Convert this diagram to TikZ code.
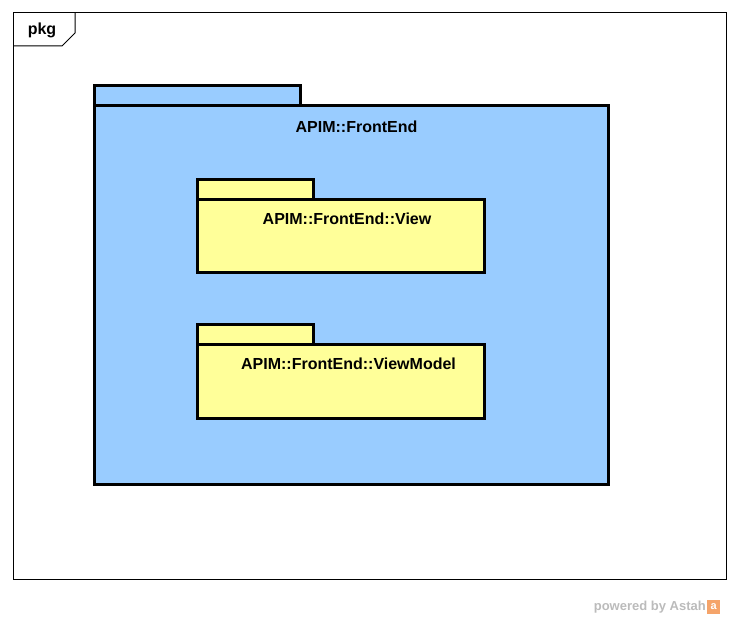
\documentclass[tikz,border=0pt]{standalone}
\usepackage{fontspec}
\setmainfont{Liberation Sans}
\definecolor{pkgblue}{HTML}{99CCFF}
\definecolor{pkgyellow}{HTML}{FFFF99}
\definecolor{wmgrey}{HTML}{BBBBBB}
\definecolor{wmorange}{HTML}{F5A46A}
\begin{document}
\begin{tikzpicture}[x=1pt,y=-1pt,
  pkgshape/.style={draw=black, line width=3pt, rectangle, inner sep=0pt, outer sep=0pt},
  lbl/.style={font=\fontsize{16}{18}\selectfont\bfseries, inner sep=0pt},
  wm/.style={font=\fontsize{13}{15}\selectfont\bfseries, text=wmgrey, inner sep=0pt}]
\useasboundingbox (0,0) rectangle (740,620);
% outer frame
\node[draw=black, line width=1pt, rectangle, inner sep=0pt, outer sep=0pt,
      minimum width=713pt, minimum height=567pt] (frame) at (369.5,296.5) {};
\coordinate (pa) at (13,46);
\coordinate (pb) at (62,46);
\coordinate (pc) at (75,33);
\coordinate (pd) at (75,13);
\draw[line width=1pt] (pa) -- (pb) -- (pc) -- (pd);
\node[lbl] (pkglbl) at (42,30) {pkg};
% FrontEnd package
\node[pkgshape, fill=pkgblue, minimum width=206pt, minimum height=20pt] (fetab) at (197,96) {};
\node[pkgshape, fill=pkgblue, minimum width=514pt, minimum height=379pt] (fe) at (351,295.5) {};
\node[lbl] (felbl) at (356.5,126.5) {APIM::FrontEnd};
% View package
\node[pkgshape, fill=pkgyellow, minimum width=116pt, minimum height=20pt] (vtab) at (255,190) {};
\node[pkgshape, fill=pkgyellow, minimum width=287pt, minimum height=73pt] (v) at (340.5,236.5) {};
\node[lbl] (vlbl) at (347,218.5) {APIM::FrontEnd::View};
% ViewModel package
\node[pkgshape, fill=pkgyellow, minimum width=116pt, minimum height=20pt] (vmtab) at (255,335) {};
\node[pkgshape, fill=pkgyellow, minimum width=287pt, minimum height=74pt] (vm) at (340.5,382) {};
\node[lbl] (vmlbl) at (348.5,363.5) {APIM::FrontEnd::ViewModel};
% watermark
\node[wm, anchor=east] (wmtxt) at (706,607) {powered by Astah};
\node[fill=wmorange, minimum width=13pt, minimum height=14pt, inner sep=0pt, anchor=west,
      font=\fontsize{11}{11}\selectfont\bfseries, text=white] (wmlogo) at (707,607) {a};
\end{tikzpicture}
\end{document}
